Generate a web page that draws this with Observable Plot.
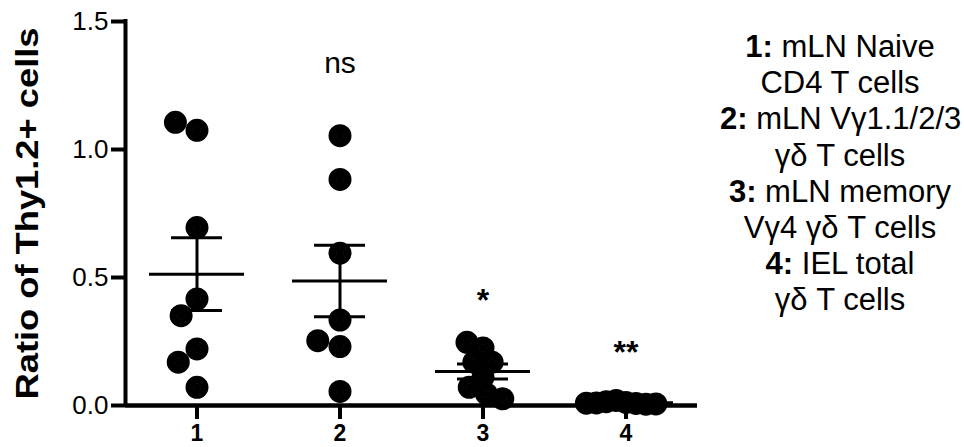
<!DOCTYPE html>
<html><head><meta charset="utf-8">
<script src="https://cdn.jsdelivr.net/npm/d3@7"></script>
<script src="https://cdn.jsdelivr.net/npm/@observablehq/plot@0.6"></script>
<style>
body{margin:0;background:#fff;font-family:"Liberation Sans",Arial,sans-serif;}
#wrap{position:relative;width:964px;height:447px;}
#wrap svg{position:absolute;left:0;top:0;}
#legend{position:absolute;left:720px;width:240px;top:29px;text-align:center;font-size:31px;line-height:36.2px;color:#000;white-space:nowrap;}
</style></head><body><div id="wrap"><div id="legend"></div></div>
<script>
// ---- data ----
const groups = ["1", "2", "3", "4"];
const group1 = [0.695, 0.416, 1.075, 1.106, 0.351, 0.221, 0.169, 0.071];
const group2 = [1.054, 0.883, 0.595, 0.334, 0.230, 0.253, 0.055];
const group3 = [0.110, 0.225, 0.169, 0.169, 0.247, 0.071, 0.045, 0.026];
const group4 = [0.012, 0.020, 0.008, 0.015, 0.005, 0.010, 0.006, 0.009];
const series = [group1, group2, group3, group4];
const sigLabels = ["", "ns", "*", "**"];
const sigY = [null, 1.338, 0.409, 0.206];
const yTicks = [0, 0.5, 1.0, 1.5];
const yLabel = "Ratio of Thy1.2+ cells";
const legendLines = [
  ["1:", " mLN Naive"], ["", "CD4 T cells"],
  ["2:", " mLN Vγ1.1/2/3"], ["", "γδ T cells"],
  ["3:", " mLN memory"], ["", "Vγ4 γδ T cells"],
  ["4:", " IEL total"], ["", "γδ T cells"]
];

// ---- derived tables ----
const points = groups.flatMap((g, i) => series[i].map(v => ({g, v})));
const stats = groups.map((g, i) => {
  const s = series[i];
  const m = d3.mean(s);
  const se = d3.deviation(s) / Math.sqrt(s.length);
  return {g, mean: m, lo: m - se, hi: m + se};
});
const sig = groups.map((g, i) => ({g, label: sigLabels[i], y: sigY[i]})).filter(d => d.label);
const xDomain = [-1, 1];
const xMid = d3.mean(xDomain);
const dodgePadding = [15, 15, 9, 2];

const dots = groups.map((g, i) => Plot.dot(points.filter(d => d.g === g),
  Plot.dodgeX({anchor: "middle", padding: dodgePadding[i]},
    {fx: "g", y: "v", r: 4, fill: "#000", stroke: "#000", strokeWidth: 15})));

const plot = Plot.plot({
  width: 964, height: 447,
  marginLeft: 124, marginRight: 266, marginTop: 21, marginBottom: 42,
  style: {fontFamily: "Liberation Sans, Arial, sans-serif", background: "transparent", color: "black"},
  fx: {domain: groups, padding: 0, label: null, axis: null},
  x: {domain: xDomain, axis: null},
  y: {domain: [0, 1.5], axis: null},
  marks: [
    Plot.axisY({ticks: yTicks, tickFormat: ".1f", tickSize: 14, tickPadding: 3, strokeWidth: 4, fontSize: 26, label: null}),
    Plot.axisFx({anchor: "bottom", tickSize: 14, tickPadding: 5, strokeWidth: 4, fontSize: 23, fontWeight: "bold", label: null}),
    Plot.ruleY([0], {strokeWidth: 4.5}),
    Plot.ruleX([{g: groups[0], x: xDomain[0]}], {fx: "g", x: "x", strokeWidth: 4, strokeLinecap: "square"}),
    ...dots,
    Plot.ruleY(stats, {fx: "g", y: "mean", insetLeft: 24, insetRight: 24, strokeWidth: 3}),
    Plot.ruleY(stats, {fx: "g", y: "hi", insetLeft: 46, insetRight: 46, strokeWidth: 3}),
    Plot.ruleY(stats, {fx: "g", y: "lo", insetLeft: 46, insetRight: 46, strokeWidth: 3}),
    Plot.ruleX(stats, {fx: "g", x: () => xMid, y1: "lo", y2: "hi", strokeWidth: 3}),
    Plot.text(sig.filter(d => d.label === "ns"), {fx: "g", y: "y", text: "label", fontSize: 30}),
    Plot.text(sig.filter(d => d.label !== "ns"), {fx: "g", y: "y", text: "label", fontSize: 32, fontWeight: "bold"}),
    Plot.text([{g: groups[0], t: yLabel}], {fx: "g", text: "t", frameAnchor: "left", textAnchor: "middle", rotate: -90, dx: -97.5, fontSize: 32, fontWeight: "bold"})
  ]
});
document.getElementById("wrap").appendChild(plot);

// stretch the y label to the reference's length
d3.select(plot).selectAll("text").filter(function () { return this.textContent === yLabel; })
  .attr("textLength", 372).attr("lengthAdjust", "spacingAndGlyphs");

const legend = d3.select("#legend");
legendLines.forEach(([b, t]) => {
  const line = legend.append("div");
  if (b) line.append("b").text(b);
  line.append("span").text(t);
});
</script></body></html>
